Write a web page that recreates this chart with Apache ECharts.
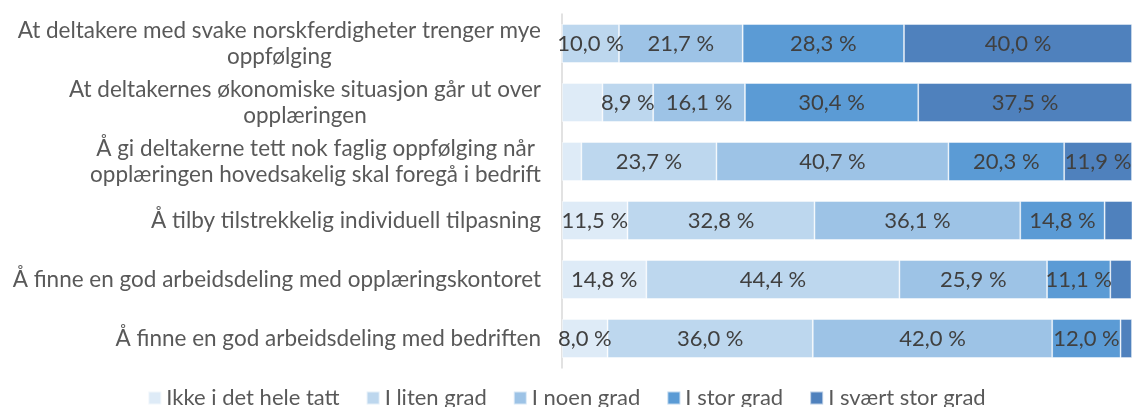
<!DOCTYPE html>
<html>
<head>
<meta charset="utf-8">
<script src="https://cdn.jsdelivr.net/npm/echarts@6/dist/echarts.min.js"></script>
<style>
  html, body { margin: 0; padding: 0; background: #fff; }
  #chart { width: 1133px; height: 407px; }
</style>
</head>
<body>
<div id="chart"></div>
<script>
// Statements, top to bottom
const categories = [
  'At deltakere med svake norskferdigheter trenger mye\noppfølging',
  'At deltakernes økonomiske situasjon går ut over\nopplæringen',
  'Å gi deltakerne tett nok faglig oppfølging når\nopplæringen hovedsakelig skal foregå i bedrift',
  'Å tilby tilstrekkelig individuell tilpasning',
  'Å finne en god arbeidsdeling med opplæringskontoret',
  'Å finne en god arbeidsdeling med bedriften'
];

const seriesNames = ['Ikke i det hele tatt', 'I liten grad', 'I noen grad', 'I stor grad', 'I svært stor grad'];

// Share of respondents (%) per statement
const ikkeIDetHeleTatt = [0.0, 7.1, 3.4, 11.5, 14.8, 8.0];
const iLitenGrad       = [10.0, 8.9, 23.7, 32.8, 44.4, 36.0];
const iNoenGrad        = [21.7, 16.1, 40.7, 36.1, 25.9, 42.0];
const iStorGrad        = [28.3, 30.4, 20.3, 14.8, 11.1, 12.0];
const iSvaertStorGrad  = [40.0, 37.5, 11.9, 4.9, 3.7, 2.0];

const seriesValues = [ikkeIDetHeleTatt, iLitenGrad, iNoenGrad, iStorGrad, iSvaertStorGrad];
const colors = ['#DEEBF7', '#BDD7EE', '#9DC3E6', '#5B9BD5', '#4F81BD'];

const FONT = 'Lato';

const chart = echarts.init(document.getElementById('chart'), null, { renderer: 'canvas' });

chart.setOption({
  animation: false,
  color: colors,
  grid: { left: 562, right: 1, top: 14, bottom: 39, containLabel: false },
  legend: {
    bottom: -7,
    left: 'center',
    itemWidth: 13,
    itemHeight: 13,
    itemGap: 26,
    icon: 'rect',
    textStyle: { fontFamily: FONT, fontSize: 22, color: '#595959' },
    data: seriesNames
  },
  xAxis: {
    type: 'value',
    min: 0,
    max: 100,
    show: false
  },
  yAxis: {
    type: 'category',
    inverse: true,
    data: categories,
    axisLine: { show: true, lineStyle: { color: '#D9D9D9', width: 1.5 } },
    axisTick: { show: false },
    axisLabel: {
      margin: 21,
      align: 'right',
      color: '#595959',
      fontFamily: FONT,
      fontSize: 22.5,
      lineHeight: 26,
      formatter: function (v) {
        return v.split('\n').map(function (l) { return '{c|' + l + '}'; }).join('\n');
      },
      rich: {
        c: { align: 'center', fontFamily: FONT, fontSize: 22.5, lineHeight: 26, color: '#595959' }
      }
    }
  },
  series: seriesNames.map(function (name, i) {
    return {
      name: name,
      type: 'bar',
      stack: 'total',
      barWidth: '66%',
      data: seriesValues[i],
      itemStyle: { color: colors[i], borderColor: 'rgba(255,255,255,0.6)', borderWidth: 0.8 },
      label: {
        show: true,
        position: 'inside',
        color: '#404040',
        fontFamily: FONT,
        fontSize: 22,
        formatter: function (p) {
          return p.value < 7.5 ? '' : p.value.toFixed(1).replace('.', ',') + ' %';
        }
      }
    };
  })
});
</script>
</body>
</html>
